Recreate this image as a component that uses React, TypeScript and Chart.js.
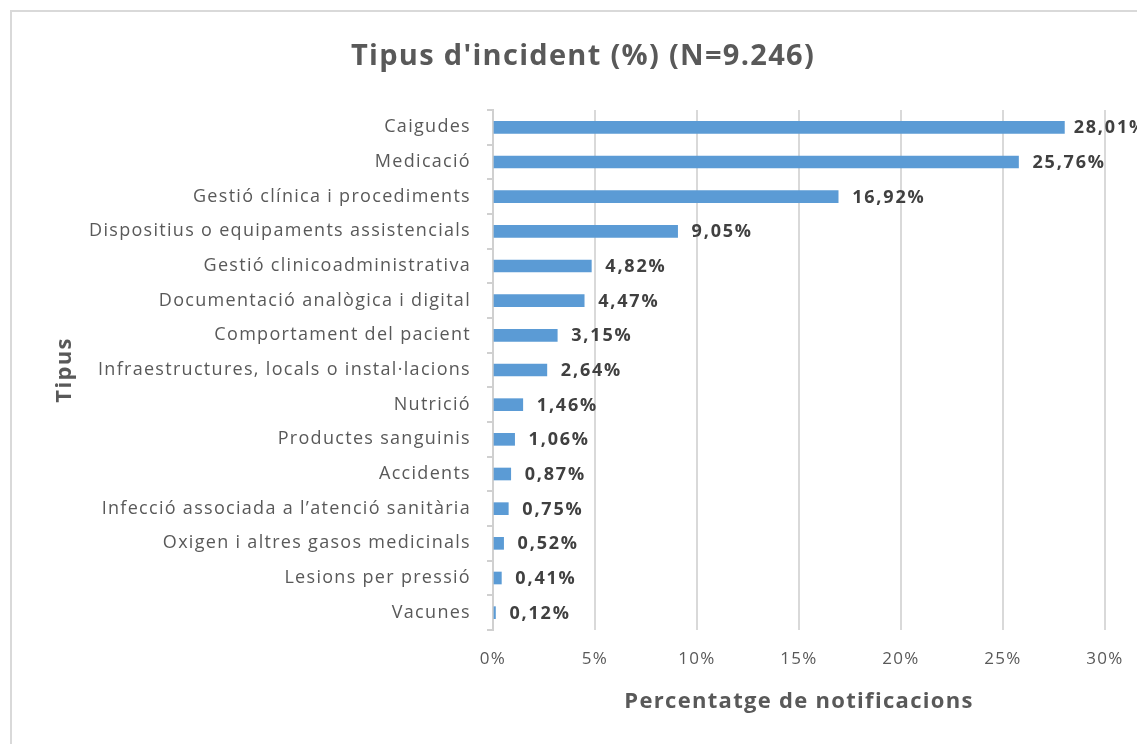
import React, { useEffect, useRef } from "react";
import { Chart, registerables } from "chart.js";

Chart.register(...registerables);

const categories: string[] = [
  "Caigudes",
  "Medicació",
  "Gestió clínica i procediments",
  "Dispositius o equipaments assistencials",
  "Gestió clinicoadministrativa",
  "Documentació analògica i digital",
  "Comportament del pacient",
  "Infraestructures, locals o instal·lacions",
  "Nutrició",
  "Productes sanguinis",
  "Accidents",
  "Infecció associada a l’atenció sanitària",
  "Oxigen i altres gasos medicinals",
  "Lesions per pressió",
  "Vacunes",
];

const percentages: number[] = [
  28.01, 25.76, 16.92, 9.05, 4.82, 4.47, 3.15, 2.64, 1.46, 1.06, 0.87, 0.75, 0.52, 0.41, 0.12,
];

const xTickValues: number[] = [0, 5, 10, 15, 20, 25, 30];

const titleText = "Tipus d'incident (%) (N=9.246)";
const xTitleText = "Percentatge de notificacions";
const yTitleText = "Tipus";

const FONT = "'Open Sans', 'Noto Sans', sans-serif";
const GREY = "#595959";

const frameBorder = {
  id: "frameBorder",
  beforeDraw(chart: any) {
    const ctx = chart.ctx;
    ctx.fillStyle = "#ffffff";
    ctx.fillRect(0, 0, chart.width, chart.height);
    ctx.strokeStyle = "#d9d9d9";
    ctx.lineWidth = 2;
    ctx.strokeRect(3, 3, chart.width + 50, chart.height + 50);
    // the reference text is slightly spaced out
    (ctx as any).letterSpacing = "1.3px";
  },
};

const valueLabels = {
  id: "valueLabels",
  afterDatasetsDraw(chart: any) {
    const ctx = chart.ctx;
    const meta = chart.getDatasetMeta(0);
    ctx.save();
    (ctx as any).letterSpacing = "1.8px";
    ctx.font = `bold 18px ${FONT}`;
    ctx.fillStyle = "#404040";
    ctx.textAlign = "left";
    ctx.textBaseline = "middle";
    meta.data.forEach((bar: any, i: number) => {
      const v = percentages[i];
      const txt = v.toFixed(2).replace(".", ",") + "%";
      const w = ctx.measureText(txt).width;
      const x = Math.min(bar.x + 14, chart.width - w + 2);
      ctx.fillText(txt, x, bar.y + 1);
    });
    ctx.restore();
  },
};

export default function App() {
  const ref = useRef<HTMLCanvasElement | null>(null);

  useEffect(() => {
    document.body.style.overflow = "hidden";
    document.documentElement.style.overflow = "hidden";
    const canvas = ref.current;
    if (!canvas) return;
    const chart = new Chart(canvas, {
      type: "bar",
      data: {
        labels: categories,
        datasets: [
          {
            data: percentages,
            backgroundColor: "#5B9BD5",
            borderWidth: 0,
            barThickness: 12,
          },
        ],
      },
      plugins: [frameBorder, valueLabels],
      options: {
        indexAxis: "y",
        animation: false,
        responsive: false,
        maintainAspectRatio: false,
        layout: { padding: { left: 53, right: 40, top: 0, bottom: 0 } },
        plugins: {
          legend: { display: false },
          tooltip: { enabled: false },
          title: {
            display: true,
            text: titleText,
            color: GREY,
            font: { family: FONT, size: 29, weight: "bold", lineHeight: 1.2 },
            padding: { top: 31, bottom: 36.2 },
          },
        },
        scales: {
          x: {
            type: "linear",
            min: 0,
            max: 30,
            afterBuildTicks(scale: any) {
              scale.ticks = xTickValues.map((v) => ({ value: v }));
            },
            afterFit(scale: any) {
              scale.height = 114;
            },
            grid: {
              color: "#d9d9d9",
              lineWidth: 2,
              drawTicks: false,
            },
            border: { display: false },
            ticks: {
              color: GREY,
              font: { family: FONT, size: 17 },
              padding: 19,
              callback: (v: any) => `${v}%`,
            },
            title: {
              display: true,
              text: xTitleText,
              color: GREY,
              font: { family: FONT, size: 22, weight: "bold", lineHeight: 1.2 },
              padding: { top: 0, bottom: 28.8 },
            },
          },
          y: {
            type: "category",
            afterFit(scale: any) {
              scale.width = 432;
            },
            grid: {
              drawOnChartArea: false,
              drawTicks: true,
              tickLength: 6,
              color: "#d0d0d0",
              lineWidth: 2,
            },
            border: { display: true, color: "#d0d0d0", width: 2 },
            ticks: {
              color: GREY,
              font: { family: FONT, size: 18 },
              padding: 16,
              autoSkip: false,
            },
            title: {
              display: true,
              text: yTitleText,
              color: GREY,
              font: { family: FONT, size: 22, weight: "bold", lineHeight: 0.35 },
              padding: { top: 0, bottom: 0 },
            },
          },
        },
      },
    } as any);
    return () => chart.destroy();
  }, []);

  return (
    <div style={{ width: 1137, height: 736 }}>
      <canvas ref={ref} width={1137} height={736} style={{ display: "block" }} />
    </div>
  );
}
